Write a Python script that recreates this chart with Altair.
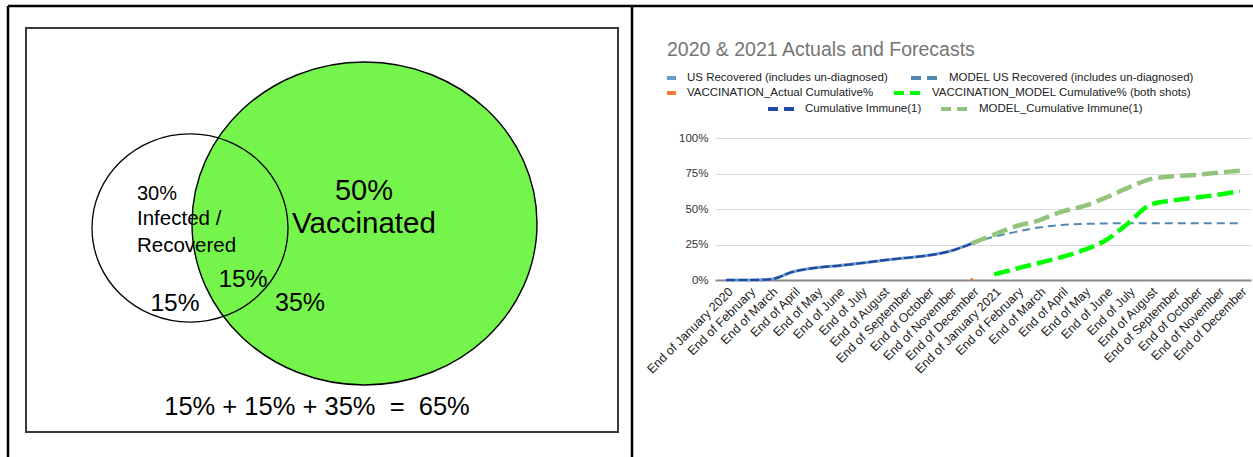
import altair as alt
import pandas as pd

# ---------------- data ----------------
months = ["End of January 2020", "End of February", "End of March", "End of April",
          "End of May", "End of June", "End of July", "End of August",
          "End of September", "End of October", "End of November", "End of December",
          "End of January 2021", "End of February", "End of March", "End of April",
          "End of May", "End of June", "End of July", "End of August",
          "End of September", "End of October", "End of November", "End of December"]

NA = None
us_recovered = [0, 0, 0.5, 5.8, 8.6, 10, 11.8, 13.8, 15.5, 17.2, 20.2, 25.8] + [NA] * 12
cumulative_immune = [0, 0, 0.5, 5.8, 8.6, 10, 11.8, 13.8, 15.5, 17.2, 20.2, 25.8] + [NA] * 12
model_us_recovered = [NA] * 11 + [25.8, 30.5, 34, 37, 38.7, 39.5, 39.8, 40, 40, 40, 40, 40, 40]
vacc_actual = [NA] * 11 + [0.4] + [NA] * 12
vacc_model = [NA] * 12 + [4, 8, 12, 16, 21, 28, 40, 53, 56, 58, 60, 62.5]
model_immune = [NA] * 11 + [25.8, 32, 38, 42, 48, 52, 58, 65, 71, 73, 74, 75.5, 77]

series_names = ["US Recovered (includes un-diagnosed)",
                "MODEL US Recovered (includes un-diagnosed)",
                "VACCINATION_Actual Cumulative%",
                "VACCINATION_MODEL Cumulative% (both shots)",
                "Cumulative Immune(1)",
                "MODEL_Cumulative Immune(1)"]
y_ticks = [0, 25, 50, 75, 100]
chart_title = "2020 & 2021 Actuals and Forecasts"

venn_sets = ["Infected / Recovered", "Vaccinated"]
venn_labels = ["30%", "Infected /", "Recovered", "50%", "Vaccinated", "15%", "15%", "35%"]
equation = "15% + 15% + 35%\u00a0\u00a0=\u00a0\u00a065%"

# ---------------- styles / layout ----------------
FONT = "Liberation Sans"
C_USREC = "#6b9fc6"
C_MODEL_USREC = "#4f88b3"
C_ORANGE = "#f47b3b"
C_VMODEL = "#00ff00"
C_IMMUNE = "#1f47a3"
C_MODEL_IMMUNE = "#93c47d"
C_VENN = "#75f54b"

W, H = 536, 142            # line-chart plot area
LEFT, TOP = 715, 138       # its position on the canvas
PAD = {"left": LEFT, "top": TOP, "right": 1253 - LEFT - W, "bottom": 457 - TOP - H}

# canvas scale (page pixels) for the decorative / Venn parts
SX = alt.Scale(domain=[0, 1253], range=[-LEFT, 1253 - LEFT], nice=False, zero=False)
SY = alt.Scale(domain=[0, 457], range=[-TOP, 457 - TOP], nice=False, zero=False)


def cx(f):
    return alt.X(f, type="quantitative", scale=SX, axis=None)


def cy(f):
    return alt.Y(f, type="quantitative", scale=SY, axis=None)


# ---------------- line chart ----------------
def series_df(values):
    return pd.DataFrame({"idx": list(range(len(months))), "v": values}).dropna()


XS = alt.Scale(type="point", domain=list(range(len(months))), range=[0, W], padding=0.5)
YS = alt.Scale(domain=[0, 100], nice=False, zero=True)
label_arr = "[" + ",".join("'" + m + "'" for m in months) + "]"

x_enc = alt.X("idx:O", scale=XS,
              axis=alt.Axis(title=None, labelAngle=-45, labelAlign="right", labelBaseline="top",
                            labelExpr=label_arr + "[datum.value]",
                            labelFont=FONT, labelFontSize=12.5, labelColor="#222",
                            ticks=False, domain=True, domainColor="#8a8a8a", domainWidth=2,
                            grid=False, labelPadding=5))
y_enc = alt.Y("v:Q", scale=YS,
              axis=alt.Axis(title=None, values=y_ticks, labelExpr="datum.value + '%'",
                            labelFont=FONT, labelFontSize=11.5, labelColor="#333",
                            ticks=False, domain=False, grid=True, gridColor="#d9d9d9",
                            gridWidth=1.2, labelPadding=7))


def line(values, color, width, dash=None):
    kw = dict(color=color, strokeWidth=width, interpolate="monotone")
    if dash:
        kw["strokeDash"] = dash
    return alt.Chart(series_df(values)).mark_line(**kw).encode(x=x_enc, y=y_enc)


lines = alt.layer(
    line(us_recovered, C_USREC, 3),
    line(cumulative_immune, C_IMMUNE, 2.2, [9, 3]),
    line(model_us_recovered, C_MODEL_USREC, 2, [8, 5]),
    line(model_immune, C_MODEL_IMMUNE, 4.5, [16, 6]),
    line(vacc_model, C_VMODEL, 4.5, [16, 6]),
    alt.Chart(series_df(vacc_actual)).mark_circle(color=C_ORANGE, size=10, opacity=1)
    .encode(x=x_enc, y=y_enc),
)

# ---------------- canvas: borders, Venn, texts, legend ----------------
borders_df = pd.DataFrame({"x": [8, 8, 632], "y": [6, 6, 6], "x2": [1253, 8, 632], "y2": [6, 457, 457]})
borders = alt.Chart(borders_df).mark_rule(color="black", strokeWidth=2.5).encode(
    x=cx("x"), y=cy("y"), x2="x2:Q", y2="y2:Q")

box_df = pd.DataFrame({"x": [26], "y": [28], "x2": [618], "y2": [432]})
box = alt.Chart(box_df).mark_rect(fillOpacity=0, stroke="#3a3a3a", strokeWidth=2).encode(
    x=cx("x"), y=cy("y"), x2="x2:Q", y2="y2:Q")

# Venn geometry (page pixels): centre, horizontal radius, vertical/horizontal ratio
venn_geom = {"Vaccinated": (364.5, 223.5, 172.5, 0.936),
             "Infected / Recovered": (190, 228, 98, 0.96)}


def ellipse(name, **mk):
    cxp, cyp, rx, ratio = venn_geom[name]
    path = f"M -1 0 A 1 {ratio} 0 1 1 1 0 A 1 {ratio} 0 1 1 -1 0 Z"
    df = pd.DataFrame({"set": [name], "x": [cxp], "y": [cyp]})
    return alt.Chart(df).mark_point(shape=path, size=(2 * rx) ** 2, opacity=1, **mk).encode(
        x=cx("x"), y=cy("y"))


big = ellipse(venn_sets[1], filled=True, color=C_VENN, stroke="black", strokeWidth=1.4, fillOpacity=1)
small = ellipse(venn_sets[0], filled=False, color="black", strokeWidth=1.3)

venn_text_pos = [(137, 200, 20, "left"), (137, 225, 20.5, "left"), (137, 252, 20.5, "left"),
                 (364, 200, 29, "center"), (364, 233, 29.5, "center"),
                 (243, 287, 24.5, "center"), (175, 311, 24.5, "center"), (300, 311, 25, "center")]
vt = pd.DataFrame({"text": venn_labels,
                   "x": [p[0] for p in venn_text_pos], "y": [p[1] for p in venn_text_pos],
                   "size": [p[2] for p in venn_text_pos], "align": [p[3] for p in venn_text_pos]})
eq = pd.DataFrame({"text": [equation], "x": [317], "y": [415], "size": [25.5], "align": ["center"]})
vt = pd.concat([vt, eq], ignore_index=True)


def texts(df, align, **mk):
    return alt.Chart(df[df["align"] == align]).mark_text(
        align=align, baseline="alphabetic", font=FONT, **mk).encode(
        x=cx("x"), y=cy("y"), text="text:N", size=alt.Size("size:Q", scale=None))


venn_texts_l = texts(vt, "left", color="black")
venn_texts_c = texts(vt, "center", color="black")

# title + legend (page pixels)
title_df = pd.DataFrame({"text": [chart_title], "x": [667], "y": [56], "size": [19.5], "align": ["left"]})
title = texts(title_df, "left", color="#757575")

leg_label_pos = [(687, 78), (949, 78), (687, 93), (932, 93), (805, 109), (979, 109)]
leg_df = pd.DataFrame({"text": series_names,
                       "x": [p[0] for p in leg_label_pos], "y": [p[1] for p in leg_label_pos]})
legend_text = alt.Chart(leg_df).mark_text(align="left", baseline="middle", font=FONT,
                                          fontSize=11.5, color="#222").encode(
    x=cx("x"), y=cy("y"), text="text:N")

swatch_geom = [(667, 676, 78, C_USREC, None), (911, 937, 78, C_MODEL_USREC, [10, 6]),
               (667, 676, 93, C_ORANGE, None), (894, 920, 93, C_VMODEL, [10, 6]),
               (768, 794, 109, C_IMMUNE, [10, 6]), (941, 967, 109, C_MODEL_IMMUNE, [10, 6])]
swatches = []
for name, (x1, x2, yy, col, dash) in zip(series_names, swatch_geom):
    kw = dict(color=col, strokeWidth=4)
    if dash:
        kw["strokeDash"] = dash
    sdf = pd.DataFrame({"name": [name], "x": [x1], "x2": [x2], "y": [yy]})
    swatches.append(alt.Chart(sdf).mark_rule(**kw).encode(x=cx("x"), x2="x2:Q", y=cy("y")))

canvas = alt.layer(borders, box, big, small, venn_texts_l, venn_texts_c, title,
                   legend_text, *swatches)

chart = alt.layer(canvas, lines).resolve_scale(x="independent", y="independent").properties(
    width=W, height=H, padding=PAD,
    autosize=alt.AutoSizeParams(type="none"),
    background="white",
).configure_view(stroke=None)

chart.save("out.html", embed_options={"renderer": "svg", "actions": False})
